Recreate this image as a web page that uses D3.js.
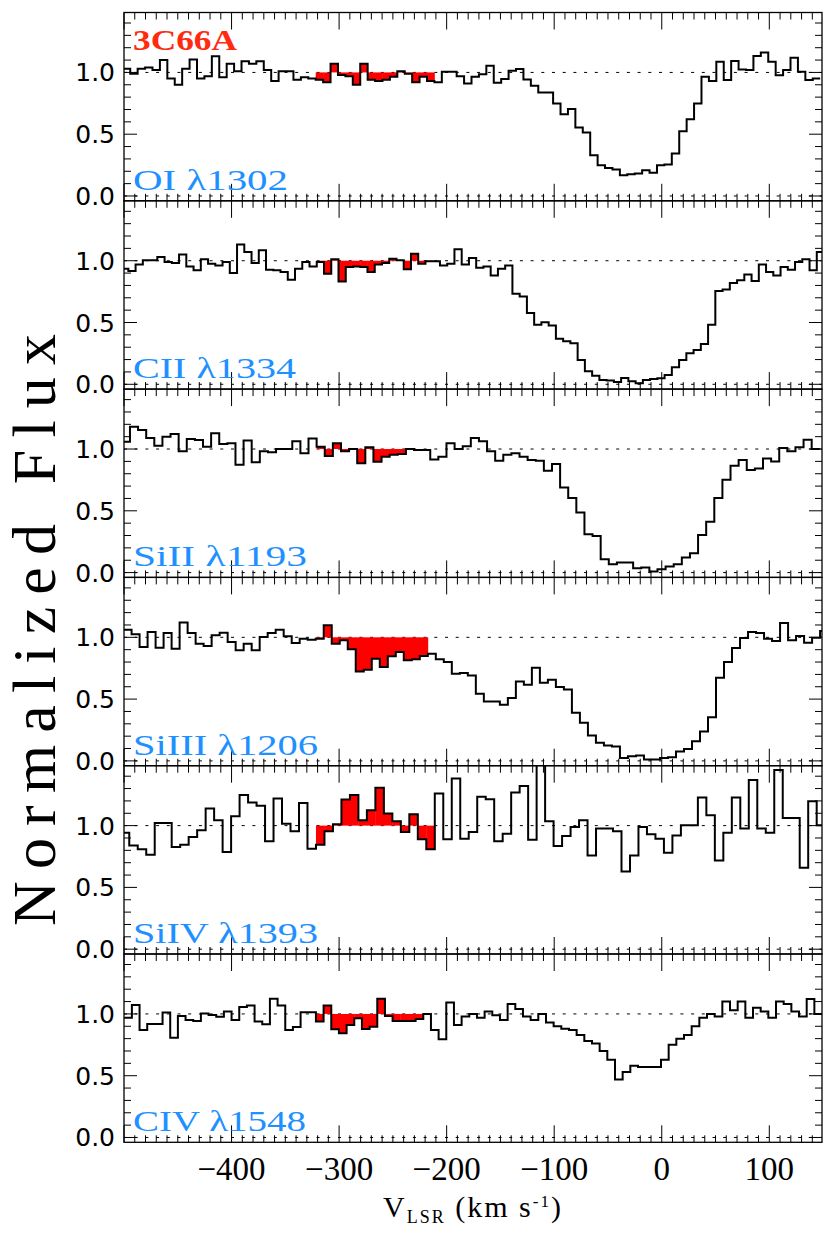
<!DOCTYPE html>
<html><head><meta charset="utf-8">
<script src="https://cdn.jsdelivr.net/npm/d3@7"></script>
<style>body{margin:0;background:#fff}</style>
</head><body>
<svg id="c" width="830" height="1246" xmlns="http://www.w3.org/2000/svg"></svg>
<script>
// ---------------- DATA ----------------
const lineLabels = ["OI λ1302","CII λ1334","SiII λ1193","SiIII λ1206","SiIV λ1393","CIV λ1548"];
// velocity of first bin edge and bin width (km/s) per line
const binStart = [-501.1,-502.7,-502.0,-500.4,-503.0,-499.8];
const binWidth = [6.898,6.738,7.546,7.444,7.891,7.13];
// velocity range highlighted in red
const redRange = [[-322,-212],[-320,-214],[-320,-230],[-320,-219],[-320,-211],[-320,-222]];

const fluxOI = [1.03,0.99,1.03,1.04,1.02,1.10,0.95,0.90,1.03,1.105,
0.95,0.97,1.13,0.96,1.07,1.01,1.09,1.07,1.09,1.02,
0.93,1.01,1.01,0.94,0.96,0.95,0.94,0.92,1.07,0.98,
0.97,0.90,1.07,0.94,0.93,0.94,0.965,1.01,0.99,0.92,
0.965,0.93,0.92,1.005,1.005,0.97,0.91,0.965,0.986,1.054,
0.916,0.946,1.014,1.027,0.943,0.892,0.838,0.838,0.749,0.662,
0.703,0.554,0.514,0.33,0.249,0.227,0.214,0.168,0.176,0.181,
0.208,0.189,0.249,0.254,0.343,0.524,0.622,0.749,0.965,0.93,
1.086,0.938,1.092,1.024,1.019,1.132,1.162,1.086,0.978,1.019,
1.119,1.005,0.938,0.951];

const fluxCII = [0.935,0.916,0.97,1.003,1.003,1.03,0.989,0.981,1.051,0.954,
0.922,1.011,0.976,0.962,0.989,0.90,1.132,1.07,0.981,1.084,
0.927,0.922,0.908,0.846,0.935,0.989,0.954,
0.989,0.895,1.011,0.832,0.949,0.954,0.949,0.908,0.97,0.981,
1.016,1.003,0.93,1.057,0.976,0.995,0.995,0.962,0.976,1.092,
0.97,1.022,0.943,0.954,0.881,0.935,0.962,0.732,0.711,0.576,
0.481,0.503,0.476,0.368,0.349,0.332,0.197,0.105,0.07,0.035,
0.03,0.019,0.051,0.024,0.008,0.035,0.043,0.049,0.076,0.138,
0.197,0.251,0.278,0.327,0.481,0.754,0.768,0.819,0.841,0.889,
0.835,0.97,0.908,0.881,0.949,0.927,0.989,1.011,0.922,1.07];

const fluxSiII = [1.059,1.181,1.154,1.089,1.027,1.10,1.122,0.981,1.081,1.073,
1.019,1.127,1.041,1.046,0.873,1.068,0.892,0.981,0.973,1.0,
1.0,1.062,0.965,1.086,1.019,0.943,1.046,0.981,1.0,0.884,
1.014,0.897,0.938,0.954,0.959,1.0,0.992,0.992,0.916,0.938,
1.046,1.0,
1.022,1.089,1.062,0.981,0.905,0.954,0.965,0.938,0.911,0.905,
0.824,0.878,0.689,0.603,0.486,0.311,0.297,0.108,0.068,0.081,
0.081,0.035,0.041,0.008,0.027,0.049,0.068,0.122,0.157,0.305,
0.411,0.603,0.751,0.865,0.911,0.83,0.843,0.924,0.90,1.008,
0.981,1.014,1.076,1.0];

const fluxSiIII = [1.062,1.024,0.922,1.043,0.916,1.035,0.908,1.119,1.035,0.949,
0.93,1.016,1.038,0.962,0.895,0.949,0.895,1.003,1.035,1.062,
1.008,0.954,0.989,0.981,0.989,1.097,0.949,0.976,0.903,0.724,
0.738,0.827,0.759,0.846,0.881,0.814,0.822,0.849,0.868,0.822,
0.80,0.705,
0.711,0.692,0.543,0.481,0.481,0.454,0.508,0.643,0.616,0.754,
0.632,0.657,0.597,0.578,0.389,0.308,0.205,0.146,0.124,0.116,
0.024,0.038,0.043,0.011,0.011,0.024,0.03,0.076,0.097,0.159,
0.238,0.354,0.673,0.80,0.914,0.995,1.043,1.035,0.989,0.97,
1.116,0.976,1.011,0.957,0.997,1.051];

const fluxSiIV = [0.943,0.84,0.808,0.764,1.022,1.022,0.827,0.846,0.908,0.962,
1.138,1.043,0.786,1.076,1.247,1.187,1.16,0.873,1.22,1.016,
0.954,1.184,0.813,0.846,0.954,1.011,1.211,1.247,1.043,1.125,
1.306,1.098,1.035,0.949,1.092,0.889,0.808,1.26,0.889,1.382,
0.894,0.949,1.233,1.214,0.873,0.935,1.268,1.32,0.886,1.50,
1.035,0.835,0.916,0.989,1.043,0.759,0.976,0.976,0.954,0.629,
0.759,0.989,0.93,0.894,0.78,0.921,1.003,1.003,1.228,1.084,
0.718,0.943,1.228,0.976,1.369,0.976,0.943,1.45,1.062,1.062,
0.659,1.198,1.003];

const fluxCIV = [0.97,1.073,0.87,0.919,0.919,1.011,0.808,0.984,0.951,0.943,
1.003,0.992,0.978,1.019,0.951,1.057,1.068,0.938,0.916,1.122,
1.068,0.87,0.895,1.014,1.014,0.938,1.068,0.876,0.843,0.911,
0.965,0.878,0.897,1.122,0.984,0.943,0.943,0.943,0.959,1.0,
0.87,0.795,1.092,0.911,
0.98,1.0,0.97,1.02,0.99,0.95,1.08,1.04,0.98,0.95,
1.0,0.93,0.9,0.88,0.87,0.83,0.78,0.76,0.7,0.63,
0.47,0.53,0.58,0.57,0.57,0.57,0.63,0.75,0.8,0.83,
0.9,0.97,1.0,0.98,1.1,1.03,1.1,0.97,1.05,1.02,
0.97,1.1,1.08,1.02,0.98,1.12,1.0];

const fluxes = [fluxOI,fluxCII,fluxSiII,fluxSiIII,fluxSiIV,fluxCIV];
const xTickValues = [-400,-300,-200,-100,0,100];
const yTickLabels = ["0.0","0.5","1.0"];
const yTickValues = [0,0.5,1.0];
const targetName = "3C66A";

// ---------------- LAYOUT ----------------
const X0 = 124, X1 = 822, TOP = 12.5, H = 188.3;
const svg = d3.select("#c");
const defs = svg.append("defs");
const x = d3.scaleLinear().domain([-500,149]).range([X0,X1]);
const serif = "'Liberation Serif','DejaVu Serif',serif";
const sans = "'DejaVu Sans','Liberation Sans',sans-serif";
const labelW = [155,163,174,185,185,173];

fluxes.forEach((flux,i)=>{
  const top = TOP + i*H, bot = top + H;
  const y = d3.scaleLinear().domain([-0.039,1.485]).range([bot,top]);
  const g = svg.append("g");
  const cid = "clip"+i;
  defs.append("clipPath").attr("id",cid).append("rect")
    .attr("x",X0).attr("y",top).attr("width",X1-X0).attr("height",H);

  // dotted reference lines
  g.selectAll("line.ref").data([0,1]).join("line").attr("class","ref")
    .attr("x1",X0).attr("x2",X1).attr("y1",d=>y(d)).attr("y2",d=>y(d))
    .attr("stroke","#000").attr("stroke-width",1).attr("stroke-dasharray","3,7.7");

  const bins = flux.map((f,k)=>({v0:binStart[i]+k*binWidth[i], v1:binStart[i]+(k+1)*binWidth[i], f}));
  const rr = redRange[i];
  const red = bins.filter(b=>{const c=(b.v0+b.v1)/2; return c>=rr[0] && c<=rr[1];});
  g.append("g").attr("clip-path",`url(#${cid})`).selectAll("rect").data(red).join("rect")
    .attr("x",b=>x(b.v0)).attr("width",b=>x(b.v1)-x(b.v0)+0.4)
    .attr("y",b=>y(Math.max(b.f,1))).attr("height",b=>Math.abs(y(b.f)-y(1)))
    .attr("fill","#ff0000");

  const pts = bins.map(b=>[b.v0,b.f]);
  pts.push([bins[bins.length-1].v1, bins[bins.length-1].f]);
  const line = d3.line().x(d=>x(d[0])).y(d=>y(d[1])).curve(d3.curveStepAfter);
  g.append("path").attr("clip-path",`url(#${cid})`).attr("d",line(pts))
    .attr("fill","none").attr("stroke","#000").attr("stroke-width",2);

  // frame
  g.append("rect").attr("x",X0).attr("y",top).attr("width",X1-X0).attr("height",H)
    .attr("fill","none").attr("stroke","#000").attr("stroke-width",1.3);

  // x ticks (top & bottom)
  const xt = d3.range(-50,15).map(k=>k*10);
  const tk = g.append("g").attr("stroke","#000").attr("stroke-width",1);
  xt.forEach(v=>{
    const L = (v%100===0)?17:7;
    tk.append("line").attr("x1",x(v)).attr("x2",x(v)).attr("y1",bot).attr("y2",bot-L);
    tk.append("line").attr("x1",x(v)).attr("x2",x(v)).attr("y1",top).attr("y2",top+L);
  });
  const yt = d3.range(0,15).map(k=>k/10);
  yt.forEach(v=>{
    const L = (Math.abs(v*2-Math.round(v*2))<1e-6)?13:7;
    tk.append("line").attr("x1",X0).attr("x2",X0+L).attr("y1",y(v)).attr("y2",y(v));
    tk.append("line").attr("x1",X1).attr("x2",X1-L).attr("y1",y(v)).attr("y2",y(v));
  });
  // y tick labels
  g.selectAll("text.yl").data(yTickValues).join("text").attr("class","yl")
    .attr("x",115).attr("y",d=>y(d)).attr("dy","0.36em").attr("text-anchor","end")
    .attr("font-family",sans).attr("font-size",25).attr("fill","#000")
    .text((d,k)=>yTickLabels[k]);
  // line label
  g.append("text").attr("x",133).attr("y",bot-11)
    .attr("font-family",serif).attr("font-size",30).attr("fill","#1e90ff")
    .attr("textLength",labelW[i]).attr("lengthAdjust","spacingAndGlyphs")
    .text(lineLabels[i]);
  if(i===0){
    g.append("text").attr("x",133).attr("y",top+37)
      .attr("font-family",serif).attr("font-size",30).attr("font-weight","bold").attr("fill","#ff2a10")
      .attr("textLength",104).attr("lengthAdjust","spacingAndGlyphs")
      .text(targetName);
  }
  if(i===fluxes.length-1){
    g.selectAll("text.xl").data(xTickValues).join("text").attr("class","xl")
      .attr("x",d=>x(d)).attr("y",bot+38).attr("text-anchor","middle")
      .attr("font-family",serif).attr("font-size",33).attr("fill","#000")
      .text(d=>d<0?"\u2212"+Math.abs(d):String(d));
  }
});

// axis titles
const xtl = svg.append("text").attr("x",383).attr("y",1217).attr("text-anchor","start")
  .attr("font-family",serif).attr("font-size",30).attr("fill","#000")
  .attr("textLength",178).attr("lengthAdjust","spacing");
xtl.append("tspan").text("V");
xtl.append("tspan").attr("font-size",18).attr("dy",6).text("LSR");
xtl.append("tspan").attr("dy",-6).text(" (km s");
xtl.append("tspan").attr("font-size",17).attr("dy",-10).text("-1");
xtl.append("tspan").attr("dy",10).text(")");

svg.append("text").attr("transform","translate(55,630) rotate(-90)")
  .attr("text-anchor","middle").attr("font-family",serif).attr("font-size",62).attr("fill","#000")
  .attr("textLength",592).attr("lengthAdjust","spacing")
  .text("Normalized Flux");
</script>
</body></html>
